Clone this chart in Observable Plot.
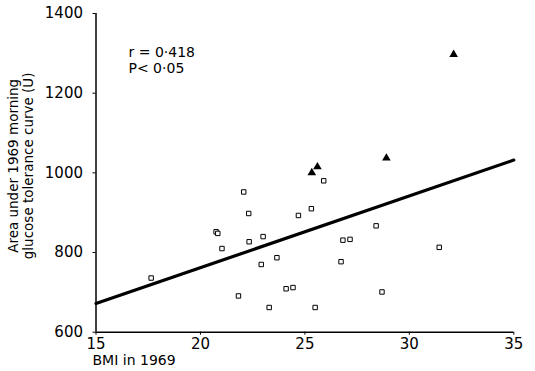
<!DOCTYPE html>
<html><head><meta charset="utf-8">
<script src="https://cdn.jsdelivr.net/npm/d3@7"></script>
<script src="https://cdn.jsdelivr.net/npm/@observablehq/plot@0.6"></script>
<style>body{margin:0;background:#fff}svg{display:block}</style>
</head><body><div id="chart"></div>
<script>
// Open squares
const bmiOpen  = [17.64, 20.75, 20.83, 21.03, 22.07, 22.31, 22.33, 23.0, 22.91, 23.66, 21.82, 23.29, 24.10, 24.43, 24.69, 25.31, 25.90, 25.49, 26.82, 27.16, 26.73, 28.41, 28.69, 31.43];
const areaOpen = [736, 852, 848, 810, 952, 898, 827, 840, 770, 787, 691, 662, 709, 712, 893, 910, 980, 662, 831, 833, 777, 867, 701, 813];
// Filled triangles
const bmiTri  = [25.33, 25.60, 28.90, 32.12];
const areaTri = [1000, 1015, 1037, 1297];
// Regression line
const fitBmi  = [15, 35];
const fitArea = [672, 1032];
// Axes and text
const xTicks = [15, 20, 25, 30, 35];
const yTicks = [600, 800, 1000, 1200, 1400];
const xLabel = "BMI in 1969";
const yLabel = ["Area under 1969 morning", "glucose tolerance curve (U)"];
const stats  = ["r = 0·418", "P< 0·05"];

const openPts = bmiOpen.map((x, i) => ({x, y: areaOpen[i]}));
const triPts  = bmiTri.map((x, i) => ({x, y: areaTri[i]}));
const fitPts  = fitBmi.map((x, i) => ({x, y: fitArea[i]}));

const font = "'DejaVu Sans', sans-serif";
const chart = Plot.plot({
  width: 535, height: 371,
  marginLeft: 95.5, marginRight: 21.7, marginTop: 13, marginBottom: 39.3,
  style: {fontFamily: font, fontSize: "15px", color: "#000", background: "#fff"},
  x: {domain: [15, 35]},
  y: {domain: [600, 1400]},
  marks: [
    Plot.axisX({ticks: xTicks, tickSize: 3, tickPadding: 3, fontSize: 15, label: null, tickFormat: d => String(d)}),
    Plot.axisY({ticks: yTicks, tickSize: 3, tickPadding: 10, fontSize: 15, label: null, tickFormat: d => String(d)}),
    Plot.ruleX([15], {stroke: "#000", strokeWidth: 1.5}),
    Plot.ruleY([600], {stroke: "#000", strokeWidth: 1.5}),
    Plot.line(fitPts, {x: "x", y: "y", stroke: "#000", strokeWidth: 3.2}),
    Plot.dot(openPts, {x: "x", y: "y", symbol: "square", r: 2.5, fill: "white", stroke: "#000", strokeWidth: 1}),
    Plot.dot(triPts, {x: "x", y: "y", symbol: "triangle", r: 3.2, fill: "#000", stroke: "none"}),
    Plot.text([stats.join("\n")], {frameAnchor: "top-left", dx: 32.5, dy: 46, textAnchor: "start", lineAnchor: "middle", lineHeight: 1.15, fontSize: 14}),
    Plot.text([xLabel], {frameAnchor: "bottom-left", dx: -3.5, dy: 28.3, textAnchor: "start", lineAnchor: "middle", fontSize: 14}),
    Plot.text([yLabel.join("\n")], {frameAnchor: "left", rotate: -90, dx: -75.5, dy: -7, textAnchor: "middle", lineAnchor: "middle", lineHeight: 1.15, fontSize: 13.5})
  ]
});
document.getElementById("chart").appendChild(chart);
</script>
</body></html>
